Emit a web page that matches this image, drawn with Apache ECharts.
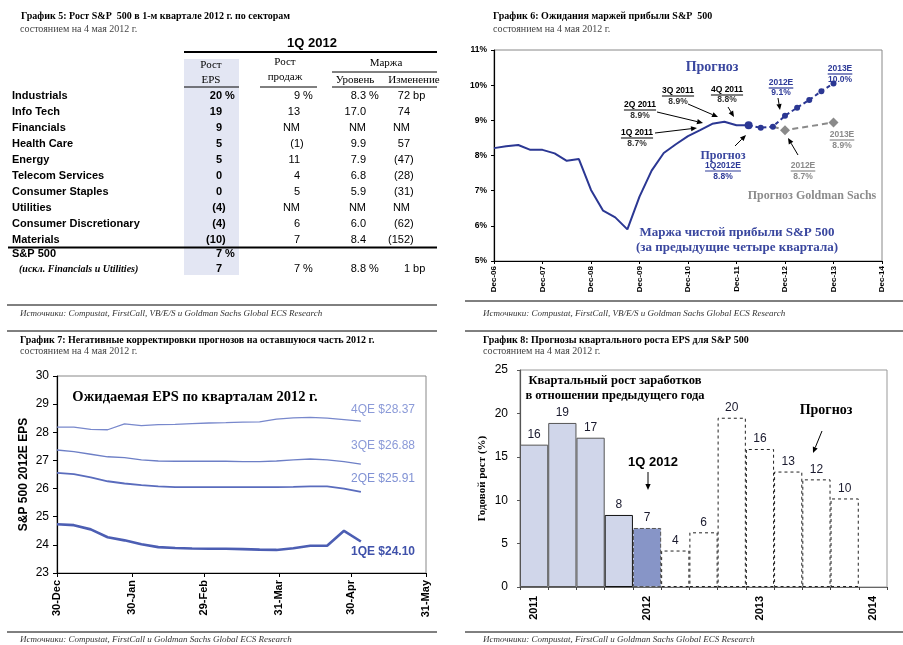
<!DOCTYPE html>
<html><head><meta charset="utf-8">
<script src="https://cdn.jsdelivr.net/npm/echarts@6/dist/echarts.min.js"></script>
<style>html,body{margin:0;padding:0;background:#fff}#c{width:903px;height:645px}</style>
</head><body><div id="c"></div>
<script>
// ---------- Chart 5: sector table ----------
const sectors = ['Industrials','Info Tech','Financials','Health Care','Energy','Telecom Services','Consumer Staples','Utilities','Consumer Discretionary','Materials'];
const epsGrowth = ['20 %','19','9','5','5','0','0','(4)','(4)','(10)'];
const salesGrowth = ['9 %','13','NM','(1)','11','4','5','NM','6','7'];
const marginLevel = ['8.3 %','17.0','NM','9.9','7.9','6.8','5.9','NM','6.0','8.4'];
const marginChange = ['72 bp','74','NM','57','(47)','(28)','(31)','NM','(62)','(152)'];
const totalLabels = ['S&P 500','(искл. Financials и Utilities)'];
const totalEps = ['7 %','7'];
const totalSales = ['','7 %'];
const totalLevel = ['','8.8 %'];
const totalChange = ['','1 bp'];

// ---------- Chart 6: S&P 500 net margin ----------
const yearTicks = ['Dec-06','Dec-07','Dec-08','Dec-09','Dec-10','Dec-11','Dec-12','Dec-13','Dec-14'];
const actualQuarter = [0,1,2,3,4,5,6,7,8,9,10,11,12,13,14,15,16,17,18,19,20,21];
const actualMargin = [8.21,8.26,8.30,8.16,8.16,8.06,7.85,7.90,7.02,6.43,6.24,5.90,6.83,7.57,8.07,8.32,8.55,8.72,8.90,8.96,8.86,8.86];
const consensusQuarter = [21,22,23,24,25,26,27,28];
const consensusMargin = [8.86,8.79,8.82,9.13,9.36,9.58,9.83,10.05];
const gsQuarter = [23,24,28];
const gsMargin = [8.82,8.72,8.94];

// ---------- Chart 7: 2012E quarterly EPS ----------
const weekDays = [0,7,14,21,28,35,42,49,56,63,70,77,84,91,98,105,112,119,126];
const eps4Q = [28.18,28.18,28.10,28.09,28.30,28.24,28.27,28.28,28.31,28.33,28.34,28.36,28.37,28.47,28.51,28.53,28.50,28.45,28.40];
const eps3Q = [27.37,27.31,27.22,27.13,27.10,27.02,26.98,26.97,26.97,26.97,26.97,26.96,26.96,26.98,27.02,27.05,27.02,26.96,26.87];
const eps2Q = [26.56,26.51,26.40,26.26,26.18,26.12,26.08,26.05,26.05,26.05,26.05,26.05,26.05,26.05,26.06,26.08,26.08,26.00,25.88];
const eps1Q = [24.73,24.70,24.55,24.27,24.16,24.02,23.92,23.89,23.87,23.86,23.86,23.85,23.83,23.82,23.88,23.97,23.97,24.50,24.12];
const endLabels = ['4QE $28.37','3QE $26.88','2QE $25.91','1QE $24.10'];
const dateTickDays = [0,31,61,92,122,153];
const dateTickLabels = ['30-Dec','30-Jan','29-Feb','31-Mar','30-Apr','31-May'];

// ---------- Chart 8: quarterly EPS growth ----------
const growthQuarters = ['1Q 2011','2Q 2011','3Q 2011','4Q 2011','1Q 2012','2Q 2012','3Q 2012','4Q 2012','1Q 2013','2Q 2013','3Q 2013','4Q 2013','1Q 2014'];
const growthValues = [16.4,18.9,17.2,8.3,6.8,4.2,6.3,19.5,15.9,13.3,12.4,10.2];
const growthLabels = ['16','19','17','8','7','4','6','20','16','13','12','10'];
const growthStatus = ['actual','actual','actual','actual','current','forecast','forecast','forecast','forecast','forecast','forecast','forecast'];

// ================= drawing helpers =================
const SANS = '"Liberation Sans", Arial, sans-serif';
const SERIF = '"Liberation Serif", "Times New Roman", serif';
const mctx = document.createElement('canvas').getContext('2d');
function tw(text, font){ mctx.font = font; return mctx.measureText(text).width; }
const G = [];
function txt(x, y, text, font, fill, align){
  G.push({type:'text', x:x, y:y, z:100, silent:true,
    style:{text:text, font:font, fill:fill||'#000', textAlign:align||'left', align:align||'left', textVerticalAlign:'middle', verticalAlign:'middle'}});
}
function ln(x1,y1,x2,y2,stroke,w,dash){
  G.push({type:'line', z:100, silent:true, shape:{x1:x1,y1:y1,x2:x2,y2:y2}, style:{stroke:stroke||'#000', lineWidth:w||1, lineDash:dash||null}});
}
function ul(cx, y, text, font, fill){
  txt(cx, y, text, font, fill, 'center');
  const w = tw(text, font);
  ln(cx-w/2, y+5, cx+w/2, y+5, fill, 1.2);
}
function arrow(x1,y1,x2,y2,color){
  color = color || '#000';
  const a = Math.atan2(y2-y1, x2-x1), L = 6, W = 2.6;
  const bx = x2 - L*Math.cos(a), by = y2 - L*Math.sin(a);
  ln(x1,y1,bx,by,color,1);
  G.push({type:'polygon', z:100, silent:true, shape:{points:[[x2,y2],[bx+W*Math.sin(a), by-W*Math.cos(a)],[bx-W*Math.sin(a), by+W*Math.cos(a)]]}, style:{fill:color}});
}

// ---------- titles / sources ----------
const TITLE_F = 'bold 10px ' + SERIF;
const SUB_F = '10px ' + SERIF;
const SRC_F = 'italic 9px ' + SERIF;
txt(21, 16, 'График 5: Рост S&P  500 в 1-м квартале 2012 г. по секторам', TITLE_F, '#000');
txt(20, 29, 'состоянием на 4 мая 2012 г.', SUB_F, '#444');
txt(493, 16, 'График 6: Ожидания маржей прибыли S&P  500', TITLE_F, '#000');
txt(493, 29, 'состоянием на 4 мая 2012 г.', SUB_F, '#444');
txt(20, 340, 'График 7: Негативные корректировки прогнозов на оставшуюся часть 2012 г.', TITLE_F, '#000');
txt(20, 351, 'состоянием на 4 мая 2012 г.', SUB_F, '#444');
txt(483, 340, 'График 8: Прогнозы квартального роста EPS для S&P 500', TITLE_F, '#000');
txt(483, 351, 'состоянием на 4 мая 2012 г.', SUB_F, '#444');
ln(7, 305, 437, 305, '#000', 1);
txt(20, 314, 'Источники: Compustat, FirstCall, VB/E/S и Goldman Sachs Global ECS Research', SRC_F, '#333');
ln(465, 301, 903, 301, '#000', 1);
txt(483, 314, 'Источники: Compustat, FirstCall, VB/E/S и Goldman Sachs Global ECS Research', SRC_F, '#333');
ln(7, 331, 437, 331, '#000', 1);
ln(465, 331, 903, 331, '#000', 1);
ln(7, 632, 437, 632, '#000', 1);
txt(20, 640, 'Источники: Compustat, FirstCall и Goldman Sachs Global ECS Research', SRC_F, '#333');
ln(465, 632, 903, 632, '#000', 1);
txt(483, 640, 'Источники: Compustat, FirstCall и Goldman Sachs Global ECS Research', SRC_F, '#333');

// ---------- table (chart 5) ----------
G.push({type:'rect', z:1, silent:true, shape:{x:184, y:59, width:55, height:216}, style:{fill:'#e3e6f3'}});
txt(312, 43, '1Q 2012', 'bold 13px ' + SANS, '#000', 'center');
ln(184, 52, 437, 52, '#000', 2.2);
const HF = '11px ' + SERIF;
txt(211, 65, 'Рост', HF, '#000', 'center');
txt(211, 80, 'EPS', HF, '#000', 'center');
ln(184, 87, 239, 87, '#000', 1);
txt(285, 62, 'Рост', HF, '#000', 'center');
txt(285, 77, 'продаж', HF, '#000', 'center');
ln(260, 87, 317, 87, '#000', 1);
txt(386, 63, 'Маржа', HF, '#000', 'center');
ln(332, 72, 437, 72, '#000', 1);
txt(355, 80, 'Уровень', HF, '#000', 'center');
txt(414, 80, 'Изменение', HF, '#000', 'center');
ln(332, 87, 437, 87, '#000', 1);

const RB = 'bold 11px ' + SANS, RN = '11px ' + SANS;
function numCell(base, y, s, font){
  if (!s) return;
  let suf = '';
  if (s.endsWith(' %')) suf = ' %';
  else if (s.endsWith(' bp')) suf = ' bp';
  else if (s.startsWith('(')) suf = ')';
  txt(base + (suf ? tw(suf, font) : 0), y, s, font, '#000', 'right');
}
sectors.forEach(function(name, i){
  const y = 95.5 + 16*i;
  txt(12, y, name, RB, '#000');
  numCell(222, y, epsGrowth[i], RB);
  numCell(300, y, salesGrowth[i], RN);
  numCell(366, y, marginLevel[i], RN);
  numCell(410, y, marginChange[i], RN);
});
ln(8, 247.5, 437, 247.5, '#000', 2.2);
txt(12, 254, totalLabels[0], RB, '#000');
txt(19, 269, totalLabels[1], 'bold italic 10px ' + SERIF, '#000');
[254, 269].forEach(function(y, i){
  numCell(222, y, totalEps[i], RB);
  numCell(300, y, totalSales[i], RN);
  numCell(366, y, totalLevel[i], RN);
  numCell(410, y, totalChange[i], RN);
});

// ---------- chart 6 annotations ----------
const BLUE = '#2d3a98', GREY = '#8a8a8a';
const LF = 'bold 8.5px ' + SANS;
txt(712, 67, 'Прогноз', 'bold 14px ' + SERIF, '#3a479f', 'center');
ul(840, 69, '2013E', LF, BLUE); txt(840, 80, '10.0%', LF, BLUE, 'center');
ul(781, 83, '2012E', LF, BLUE); txt(781, 93, '9.1%', LF, BLUE, 'center');
ul(678, 91, '3Q 2011', LF, '#000'); txt(678, 102, '8.9%', LF, '#333', 'center');
ul(727, 90, '4Q 2011', LF, '#000'); txt(727, 100, '8.8%', LF, '#333', 'center');
ul(640, 105, '2Q 2011', LF, '#000'); txt(640, 116, '8.9%', LF, '#333', 'center');
ul(637, 133, '1Q 2011', LF, '#000'); txt(637, 144, '8.7%', LF, '#333', 'center');
txt(723, 156, 'Прогноз', 'bold 12px ' + SERIF, '#3a479f', 'center');
ul(723, 166, '1Q2012E', LF, BLUE); txt(723, 177, '8.8%', LF, BLUE, 'center');
ul(803, 166, '2012E', LF, GREY); txt(803, 177, '8.7%', LF, GREY, 'center');
ul(842, 135, '2013E', LF, GREY); txt(842, 146, '8.9%', LF, GREY, 'center');
txt(812, 196, 'Прогноз Goldman Sachs', 'bold 12px ' + SERIF, '#8c8c8c', 'center');
txt(737, 233, 'Маржа чистой прибыли S&P 500', 'bold 13px ' + SERIF, '#3a479f', 'center');
txt(737, 248, '(за предыдущие четыре квартала)', 'bold 13px ' + SERIF, '#3a479f', 'center');
arrow(655,133,697,128);
arrow(657,112,703,123);
arrow(688,104,718,117);
arrow(728,107,734,117);
arrow(735,146,746,135);
arrow(778,98,780,110);
arrow(798,155,788,138);

// ---------- chart 7 annotations ----------
txt(195, 397, 'Ожидаемая EPS по кварталам 2012 г.', 'bold 14.5px ' + SERIF, '#000', 'center');
txt(415, 410, endLabels[0], '12px ' + SANS, '#8b9ad8', 'right');
txt(415, 446, endLabels[1], '12px ' + SANS, '#8b9ad8', 'right');
txt(415, 479, endLabels[2], '12px ' + SANS, '#8192d4', 'right');
txt(415, 552, endLabels[3], 'bold 12px ' + SANS, '#3f51aa', 'right');

// ---------- chart 8 annotations ----------
txt(615, 381, 'Квартальный рост заработков', 'bold 12.5px ' + SERIF, '#000', 'center');
txt(615, 396, 'в отношении предыдущего года', 'bold 12.5px ' + SERIF, '#000', 'center');
txt(653, 462, '1Q 2012', 'bold 13px ' + SANS, '#000', 'center');
arrow(648,472,648,490);
txt(826, 410, 'Прогноз', 'bold 14px ' + SERIF, '#000', 'center');
arrow(822,431,813,453);

// ================= chart =================
function zip(xs, ys){ return xs.map(function(x,i){ return [x, ys[i]]; }); }

const barData = growthValues.map(function(v, i){
  const s = growthStatus[i];
  let st;
  if (s === 'actual') st = {color:'#d0d6ea', borderColor: i === 3 ? '#111' : '#555', borderWidth:1};
  else if (s === 'current') st = {color:'#8795c7', borderColor:'#555', borderWidth:1, borderType:'dashed'};
  else st = {color:'#ffffff', borderColor:'#222', borderWidth:1, borderType:[3,3]};
  return {value:v, itemStyle:st};
});

const chart = echarts.init(document.getElementById('c'), null, {renderer:'canvas'});
chart.setOption({
  backgroundColor:'#fff',
  animation:false,
  grid:[
    {left:494, top:50, width:388, height:211, show:true, borderColor:'#888', borderWidth:1, backgroundColor:'transparent'},
    {left:57, top:376, width:369, height:197, show:true, borderColor:'#888', borderWidth:1, backgroundColor:'transparent'},
    {left:520, top:370, width:367, height:217, show:true, borderColor:'#999', borderWidth:1, backgroundColor:'transparent'}
  ],
  xAxis:[
    {gridIndex:0, type:'value', min:0, max:32, interval:4,
      axisLine:{show:true, lineStyle:{color:'#000', width:1.2}},
      axisTick:{show:true, length:3, lineStyle:{color:'#000'}},
      splitLine:{show:false},
      axisLabel:{rotate:90, margin:5, fontFamily:SANS, fontWeight:'bold', fontSize:8, color:'#000',
        formatter:function(v){ return yearTicks[Math.round(v/4)] || ''; }}},
    {gridIndex:1, type:'value', min:0, max:153,
      axisLine:{show:true, lineStyle:{color:'#000', width:1.2}},
      axisTick:{show:true, length:4, customValues:dateTickDays, lineStyle:{color:'#000'}},
      splitLine:{show:false},
      axisLabel:{rotate:90, margin:7, fontFamily:SANS, fontWeight:'bold', fontSize:11, color:'#000',
        customValues:dateTickDays,
        formatter:function(v){ const k = dateTickDays.indexOf(v); return k >= 0 ? dateTickLabels[k] : ''; }}},
    {gridIndex:2, type:'category', data:growthQuarters, boundaryGap:true,
      axisLine:{show:true, lineStyle:{color:'#666', width:1.2}},
      axisTick:{show:true, length:3, interval:0, lineStyle:{color:'#444'}},
      axisLabel:{rotate:90, margin:9, interval:0, fontFamily:SANS, fontWeight:'bold', fontSize:11, color:'#000',
        formatter:function(v){ return v.indexOf('1Q') === 0 ? v.slice(3) : ''; }}}
  ],
  yAxis:[
    {gridIndex:0, type:'value', min:5, max:11, interval:1,
      axisLine:{show:true, lineStyle:{color:'#000', width:1.2}},
      axisTick:{show:true, length:3, lineStyle:{color:'#000'}},
      splitLine:{show:false},
      axisLabel:{margin:7, fontFamily:SANS, fontWeight:'bold', fontSize:8.5, color:'#000', formatter:'{value}%'}},
    {gridIndex:1, type:'value', min:23, max:30, interval:1,
      axisLine:{show:true, lineStyle:{color:'#000', width:1.2}},
      axisTick:{show:true, length:4, lineStyle:{color:'#000'}},
      splitLine:{show:false},
      axisLabel:{margin:8, fontFamily:SANS, fontSize:12, color:'#000'},
      name:'S&P 500 2012E EPS', nameLocation:'middle', nameGap:27, nameRotate:90,
      nameTextStyle:{fontFamily:SANS, fontWeight:'bold', fontSize:12, color:'#000'}},
    {gridIndex:2, type:'value', min:0, max:25, interval:5,
      axisLine:{show:true, lineStyle:{color:'#555', width:1.2}},
      axisTick:{show:true, length:3, lineStyle:{color:'#555'}},
      splitLine:{show:false},
      axisLabel:{margin:12, fontFamily:SANS, fontSize:12, color:'#000'},
      name:'Годовой рост (%)', nameLocation:'middle', nameGap:32, nameRotate:90,
      nameTextStyle:{fontFamily:SERIF, fontWeight:'bold', fontSize:11, color:'#000'}}
  ],
  series:[
    {type:'line', xAxisIndex:0, yAxisIndex:0, data:zip(actualQuarter, actualMargin), symbol:'none',
      lineStyle:{color:'#2b3793', width:2}, z:3},
    {type:'line', xAxisIndex:0, yAxisIndex:0, data:zip(gsQuarter, gsMargin).map(function(p, i){
        return i === 0 ? {value:p, symbol:'none'} : {value:p}; }),
      symbol:'diamond', symbolSize:10, itemStyle:{color:'#8a8a8a'},
      lineStyle:{color:'#8a8a8a', width:2, type:[6,4]}, z:2},
    {type:'line', xAxisIndex:0, yAxisIndex:0, data:zip(consensusQuarter, consensusMargin).map(function(p, i){
        return i === 0 ? {value:p, symbolSize:8} : {value:p}; }),
      symbol:'circle', symbolSize:6, itemStyle:{color:'#2b3793'},
      lineStyle:{color:'#2b3793', width:2, type:[4,3]}, z:4},
    {type:'line', xAxisIndex:1, yAxisIndex:1, data:zip(weekDays, eps4Q), symbol:'none', lineStyle:{color:'#7888cc', width:1.3}},
    {type:'line', xAxisIndex:1, yAxisIndex:1, data:zip(weekDays, eps3Q), symbol:'none', lineStyle:{color:'#6d7fc6', width:1.3}},
    {type:'line', xAxisIndex:1, yAxisIndex:1, data:zip(weekDays, eps2Q), symbol:'none', lineStyle:{color:'#5a6cbd', width:1.8}},
    {type:'line', xAxisIndex:1, yAxisIndex:1, data:zip(weekDays, eps1Q), symbol:'none', lineStyle:{color:'#4c5eb3', width:2.6}},
    {type:'bar', xAxisIndex:2, yAxisIndex:2, data:barData, barCategoryGap:'0%',
      label:{show:true, position:'top', distance:4, fontFamily:SANS, fontSize:12, color:'#1a1a2e',
        formatter:function(p){ return growthLabels[p.dataIndex]; }}}
  ],
  graphic:{elements:G}
});
</script>
</body></html>
